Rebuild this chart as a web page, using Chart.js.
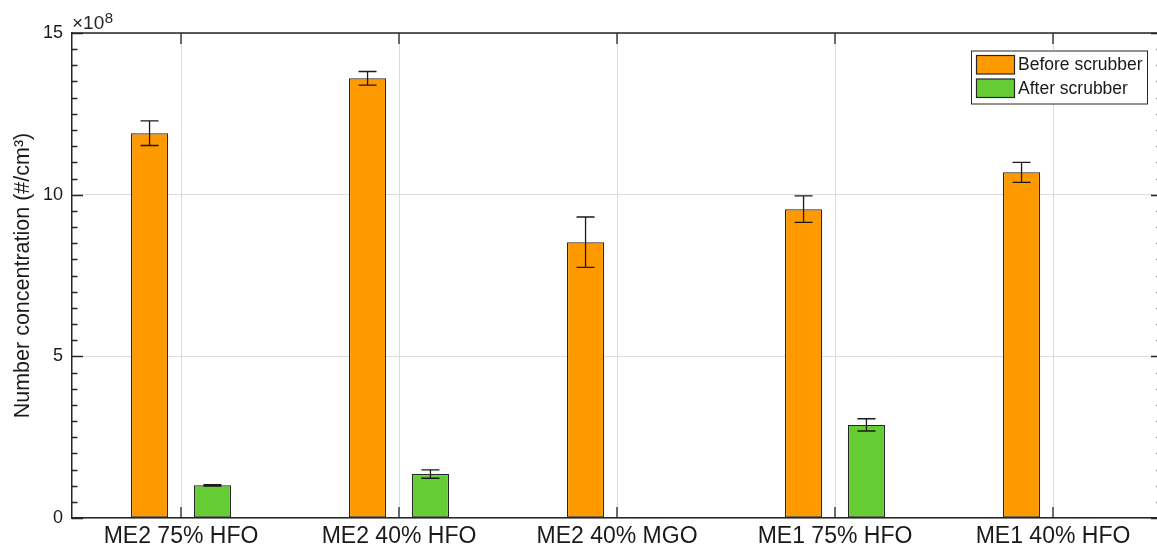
<!DOCTYPE html>
<html>
<head>
<meta charset="utf-8">
<title>Number concentration before and after scrubber</title>
<script src="https://cdn.jsdelivr.net/npm/chart.js@4.4.1/dist/chart.umd.min.js"></script>
<style>
  html, body { margin: 0; padding: 0; background: #ffffff; overflow: hidden; }
  #wrap { width: 1170px; height: 547px; }
</style>
</head>
<body>
<div id="wrap"><canvas id="chart" width="1170" height="547"></canvas></div>
<script>
// Engine load / fuel cases
const categories = ['ME2 75% HFO', 'ME2 40% HFO', 'ME2 40% MGO', 'ME1 75% HFO', 'ME1 40% HFO'];

// Particle number concentration, in units of 10^8 #/cm3
const beforeScrubber = [11.90, 13.60, 8.53, 9.55, 10.69];
const beforeScrubberErr = [0.38, 0.21, 0.78, 0.41, 0.31];
const afterScrubber = [1.01, 1.36, 0.02, 2.88, 0.02];
const afterScrubberErr = [0.02, 0.13, 0, 0.19, 0];

const seriesNames = ['Before scrubber', 'After scrubber'];
const yTicks = [0, 5, 10, 15];
const exponent = 8;

const FONT = "'Liberation Sans', Arial, Helvetica, sans-serif";
const AXIS = '#262626';
const GRID = '#dcdcdc';
const ORANGE = '#ff9900';
const GREEN = '#66cc33';

// MATLAB-style box, inward tick marks and axis exponent
const boxPlugin = {
  id: 'boxTicks',
  afterDatasetsDraw(chart) {
    const { ctx, chartArea: a, scales: { x, y } } = chart;
    ctx.save();
    ctx.strokeStyle = AXIS;
    ctx.lineWidth = 1.5;
    ctx.beginPath();
    ctx.moveTo(a.left, a.top); ctx.lineTo(a.right, a.top);
    ctx.moveTo(a.right, a.top); ctx.lineTo(a.right, a.bottom);
    ctx.stroke();

    ctx.lineWidth = 1.3;
    ctx.beginPath();
    const major = 11, minor = 5.5;
    // x ticks at category centres, bottom and top
    categories.forEach((c, i) => {
      const px = x.getPixelForValue(i);
      ctx.moveTo(px, a.bottom); ctx.lineTo(px, a.bottom - major);
      ctx.moveTo(px, a.top); ctx.lineTo(px, a.top + major);
    });
    // y ticks: majors every 5, minors every 0.5
    for (let v = y.min; v <= y.max + 1e-9; v += 0.5) {
      const py = Math.round(y.getPixelForValue(v)) + 0.5;
      const len = yTicks.includes(Math.round(v * 10) / 10) ? major : minor;
      ctx.moveTo(a.left, py); ctx.lineTo(a.left + len, py);
      ctx.moveTo(a.right, py); ctx.lineTo(a.right - len, py);
    }
    ctx.stroke();

    // exponent label above the y axis
    ctx.fillStyle = AXIS;
    ctx.textBaseline = 'alphabetic';
    ctx.textAlign = 'left';
    ctx.font = '19px ' + FONT;
    const base = '\u00d710';
    ctx.fillText(base, a.left, a.top - 4.5);
    const w = ctx.measureText(base).width;
    ctx.font = '15px ' + FONT;
    ctx.fillText(String(exponent), a.left + w + 0.5, a.top - 10);
    ctx.restore();
  }
};

// Vertical error bars for each bar
const errorPlugin = {
  id: 'errorBars',
  afterDatasetsDraw(chart) {
    const { ctx, scales: { y } } = chart;
    ctx.save();
    ctx.strokeStyle = '#1a1a1a';
    ctx.lineWidth = 1.3;
    chart.data.datasets.forEach((ds, di) => {
      const meta = chart.getDatasetMeta(di);
      meta.data.forEach((bar, i) => {
        const e = ds.errors[i];
        if (!e) return;
        const v = ds.data[i];
        const top = y.getPixelForValue(v + e);
        const bot = y.getPixelForValue(v - e);
        const cap = 9;
        ctx.beginPath();
        ctx.moveTo(bar.x, top); ctx.lineTo(bar.x, bot);
        ctx.moveTo(bar.x - cap, top); ctx.lineTo(bar.x + cap, top);
        ctx.moveTo(bar.x - cap, bot); ctx.lineTo(bar.x + cap, bot);
        ctx.stroke();
      });
    });
    ctx.restore();
  }
};

// Boxed legend in the upper right corner
const legendPlugin = {
  id: 'boxLegend',
  afterDraw(chart) {
    const { ctx } = chart;
    const bx = 971, by = 50.5, bw = 176, bh = 53;
    ctx.save();
    ctx.fillStyle = '#ffffff';
    ctx.fillRect(bx, by, bw, bh);
    ctx.strokeStyle = '#262626';
    ctx.lineWidth = 1;
    ctx.strokeRect(bx + 0.5, by + 0.5, bw, bh);
    ctx.font = '17.5px ' + FONT;
    ctx.textBaseline = 'middle';
    ctx.textAlign = 'left';
    chart.data.datasets.forEach((ds, i) => {
      const sy = by + 5 + i * 23.5;
      ctx.fillStyle = ds.backgroundColor;
      ctx.fillRect(976.5, sy, 38, 18.5);
      ctx.strokeStyle = '#262626';
      ctx.lineWidth = 1.2;
      ctx.strokeRect(976.5, sy, 38, 18.5);
      ctx.fillStyle = '#1a1a1a';
      ctx.fillText(ds.label, 1018, sy + 10);
    });
    ctx.restore();
  }
};

new Chart(document.getElementById('chart'), {
  type: 'bar',
  data: {
    labels: categories,
    datasets: [
      {
        label: seriesNames[0],
        data: beforeScrubber,
        errors: beforeScrubberErr,
        backgroundColor: ORANGE,
        borderColor: '#262626',
        borderWidth: 1.2,
        borderSkipped: false,
        categoryPercentage: 0.577,
        barPercentage: 0.59
      },
      {
        label: seriesNames[1],
        data: afterScrubber,
        errors: afterScrubberErr,
        backgroundColor: GREEN,
        borderColor: '#262626',
        borderWidth: 1.2,
        borderSkipped: false,
        categoryPercentage: 0.577,
        barPercentage: 0.59
      }
    ]
  },
  options: {
    responsive: false,
    animation: false,
    devicePixelRatio: 1,
    layout: { padding: { top: 33, right: 8, left: 0, bottom: 0 } },
    plugins: { legend: { display: false }, tooltip: { enabled: false } },
    scales: {
      x: {
        offset: true,
        grid: { display: true, offset: false, color: GRID, lineWidth: 1, drawTicks: false },
        border: { display: true, color: AXIS, width: 1.5 },
        ticks: {
          color: '#1a1a1a',
          font: { family: FONT, size: 23 },
          padding: 5,
          maxRotation: 0,
          autoSkip: false
        },
        afterFit(s) { s.height = 29; }
      },
      y: {
        min: 0,
        max: 15,
        afterBuildTicks(s) { s.ticks = yTicks.map(v => ({ value: v })); },
        grid: { display: true, color: GRID, lineWidth: 1, drawTicks: false },
        border: { display: true, color: AXIS, width: 1.5 },
        ticks: {
          color: '#1a1a1a',
          font: { family: FONT, size: 18 },
          padding: 9
        },
        title: {
          display: true,
          text: 'Number concentration (#/cm\u00b3)',
          color: '#1a1a1a',
          font: { family: FONT, size: 21.5 },
          padding: { top: 10, bottom: 0 }
        },
        afterFit(s) { s.width = 72; }
      }
    }
  },
  plugins: [boxPlugin, errorPlugin, legendPlugin]
});
</script>
</body>
</html>
